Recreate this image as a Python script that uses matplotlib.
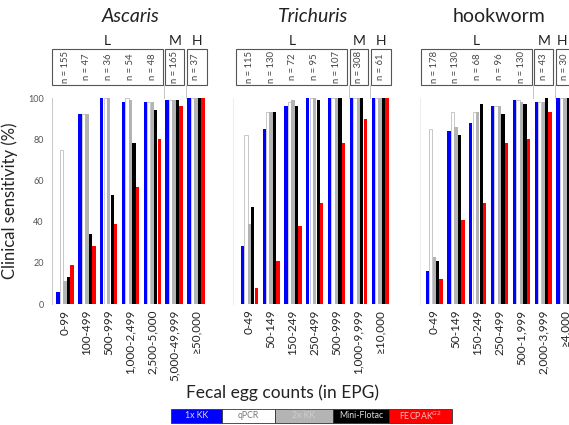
import numpy as np
import matplotlib.pyplot as plt
from matplotlib.patches import Rectangle

# methods (bar order inside each group)
methods = ["1x KK", "qPCR", "2x KK", "Mini-Flotac", "FECPAK$^{G2}$"]
method_colors = ["#0000ff", "#ffffff", "#b4b4b4", "#000000", "#ff0000"]
legend_text_colors = ["#dddddd", "#777777", "#cfcfcf", "#dddddd", "#ffbbbb"]

# EPG classes
ascaris_classes = ["0-99", "100-499", "500-999", "1,000-2,499", "2,500-5,000", "5,000-49,999", "\u226550,000"]
trichuris_classes = ["0-49", "50-149", "150-249", "250-499", "500-999", "1,000-9,999", "\u226510,000"]
hookworm_classes = ["0-49", "50-149", "150-249", "250-499", "500-1,999", "2,000-3,999", "\u22654,000"]

# sample sizes per class
ascaris_n = [155, 47, 36, 54, 48, 165, 37]
trichuris_n = [115, 130, 72, 95, 107, 308, 61]
hookworm_n = [178, 130, 68, 96, 130, 43, 30]

# clinical sensitivity (%) per method, one value per class
ascaris_kk1 = [6, 92, 100, 98, 98, 99, 100]
ascaris_qpcr = [75, 92, 100, 100, 98, 99, 100]
ascaris_kk2 = [11, 92, 100, 99, 98, 99, 100]
ascaris_mf = [13, 34, 53, 78, 94, 99, 100]
ascaris_fec = [19, 28, 39, 57, 80, 96, 100]

trichuris_kk1 = [28, 85, 96, 100, 100, 100, 100]
trichuris_qpcr = [82, 93, 98, 100, 100, 100, 100]
trichuris_kk2 = [39, 93, 99, 100, 100, 100, 100]
trichuris_mf = [47, 93, 96, 99, 100, 100, 100]
trichuris_fec = [8, 21, 38, 49, 78, 90, 100]

hookworm_kk1 = [16, 84, 88, 96, 99, 98, 100]
hookworm_qpcr = [85, 93, 93, 96, 99, 98, 100]
hookworm_kk2 = [23, 86, 93, 96, 98, 98, 100]
hookworm_mf = [21, 82, 97, 92, 97, 100, 100]
hookworm_fec = [12, 41, 49, 78, 80, 93, 100]

panels = [
    ("Ascaris", "italic", ascaris_classes, ascaris_n,
     [ascaris_kk1, ascaris_qpcr, ascaris_kk2, ascaris_mf, ascaris_fec], 52, (-0.6, 6.6)),
    ("Trichuris", "italic", trichuris_classes, trichuris_n,
     [trichuris_kk1, trichuris_qpcr, trichuris_kk2, trichuris_mf, trichuris_fec], 233, (-0.75, 6.6)),
    ("hookworm", "normal", hookworm_classes, hookworm_n,
     [hookworm_kk1, hookworm_qpcr, hookworm_kk2, hookworm_mf, hookworm_fec], 420, (-0.65, 6.6)),
]

plt.rcParams['font.family'] = ['Lato', 'DejaVu Sans']

W, H = 569, 425
fig = plt.figure(figsize=(W / 100, H / 100), dpi=100)

px_per_group = 21.8
y_bot, y_top = 304, 98
bw = 0.16

for k, (title, style, classes, nvals, series, left_px, xl) in enumerate(panels):
    width_px = (xl[1] - xl[0]) * px_per_group
    ax = fig.add_axes([left_px / W, (H - y_bot) / H, width_px / W, (y_bot - y_top) / H])
    x = np.arange(len(classes))
    for j, vals in enumerate(series):
        edge = "#c8c8c8" if j == 1 else method_colors[j]
        ax.bar(x + (j - 2) * bw, vals, width=bw * 0.95, color=method_colors[j],
               edgecolor=edge, linewidth=0.7 if j == 1 else 0)
    ax.set_xlim(*xl)
    ax.set_ylim(0, 100)
    for s in ["top", "right", "bottom"]:
        ax.spines[s].set_visible(False)
    ax.spines["left"].set_color("#cccccc" if k == 0 else "#eeeeee")
    ax.spines["left"].set_linewidth(0.8)
    ax.set_yticks([0, 20, 40, 60, 80, 100])
    if k == 0:
        ax.tick_params(axis="y", length=0, labelsize=6.5, labelcolor="#555555", pad=6)
        ax.set_ylabel("Clinical sensitivity (%)", fontsize=12, color="#222222", labelpad=7)
    else:
        ax.tick_params(axis="y", length=0, labelleft=False)
    ax.set_xticks(x)
    ax.set_xticklabels(classes, rotation=90, fontsize=8.5, color="#222222")
    ax.tick_params(axis="x", length=0, pad=4)

    ax.set_title(title, fontsize=14, style=style, color="#222222", y=1.33)

    # header boxes: L (low), M (moderate), H (high)
    tr = ax.get_xaxis_transform()
    boxes = [("L", -0.6, 4.5), ("M", 4.6, 5.46), ("H", 5.6, 6.5)]
    for lab, x0, x1 in boxes:
        ax.add_patch(Rectangle((x0, 1.063), x1 - x0, 0.175, transform=tr, fill=False,
                               edgecolor="#555555", linewidth=0.8, clip_on=False))
        xc = (x0 + x1) / 2
        if k == 2 and lab == "H":
            xc = 5.88
        ax.text(xc, 1.275, lab, transform=tr, ha="center", va="center",
                fontsize=10, color="#222222")
    for i, n in enumerate(nvals):
        ax.text(i, 1.15, "n = %d" % n, transform=tr, rotation=90, ha="center",
                va="center", fontsize=6.8, color="#444444")
    # thin separators below the boxes
    for xs in [4.55, 5.53]:
        ax.plot([xs, xs], [1.0, 1.063], transform=tr, color="#bbbbbb",
                linewidth=0.6, clip_on=False)

fig.text(283 / W, 1 - 393 / H, "Fecal egg counts (in EPG)", ha="center", va="center",
         fontsize=12.5, color="#222222")

# legend strip
edges = [171, 222, 275, 333, 389, 452]
for i, m in enumerate(methods):
    x0, x1 = edges[i], edges[i + 1]
    fig.patches.append(Rectangle((x0 / W, 1 - 423 / H), (x1 - x0) / W, 14 / H,
                                 transform=fig.transFigure, facecolor=method_colors[i],
                                 edgecolor="#333333", linewidth=0.6))
    fig.text((x0 + x1) / 2 / W, 1 - 416 / H, m, ha="center", va="center",
             fontsize=6.3, color=legend_text_colors[i])

fig.savefig("out.png", dpi=100)
